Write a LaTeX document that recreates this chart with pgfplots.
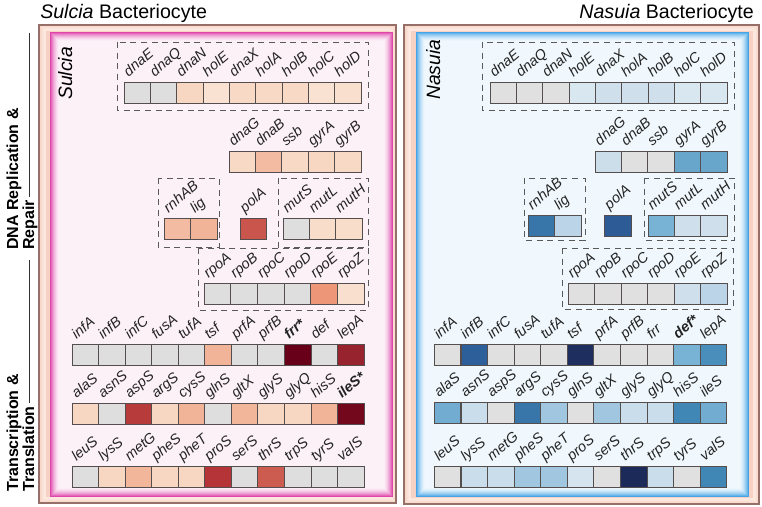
\documentclass[border=0pt]{standalone}
\usepackage{fontspec}
\setmainfont{Liberation Sans}
\usepackage{pgfplots}
\pgfplotsset{compat=1.18}
\usepackage{pgfplotstable}

\definecolor{cellline}{RGB}{85,78,78}
\definecolor{labeltext}{RGB}{35,35,35}
\definecolor{boxline}{RGB}{90,90,90}
\definecolor{frameline}{RGB}{150,112,104}
\definecolor{framefill}{RGB}{247,210,196}
\definecolor{framelight}{RGB}{252,232,222}
\definecolor{baseL}{RGB}{253,241,248}
\definecolor{glowL}{RGB}{222,70,170}
\definecolor{baseR}{RGB}{240,248,253}
\definecolor{glowR}{RGB}{70,165,230}

\newcommand\genefont{\fontsize{10.8}{12}\selectfont\itshape}
\protected\def\sig#1{\textbf{#1*}}

\pgfplotsset{
  colormap={sulc}{rgb255(0pt)=(222,222,222) rgb255(1pt)=(222,222,222)
    rgb255(2pt)=(252,236,224) rgb255(12pt)=(249,224,206) rgb255(20pt)=(246,211,190)
    rgb255(33pt)=(242,180,152) rgb255(42pt)=(238,150,120) rgb255(60pt)=(205,92,80)
    rgb255(72pt)=(180,52,56) rgb255(82pt)=(150,35,45) rgb255(100pt)=(105,0,25)},
  colormap={nasu}{rgb255(0pt)=(224,224,224) rgb255(1pt)=(224,224,224)
    rgb255(2pt)=(228,238,245) rgb255(15pt)=(205,222,235) rgb255(25pt)=(180,208,230)
    rgb255(40pt)=(120,178,212) rgb255(58pt)=(65,135,182) rgb255(72pt)=(45,95,155)
    rgb255(100pt)=(28,42,90)},
}

% gene, cell centre in pixels (x right, y down), expression level (0 = grey)
\pgfplotstableread{
gene x y v
dnaE 137.2 92.5 0
dnaQ 163.5 92.5 0
dnaN 189.9 92.5 18
holE 216.2 92.5 10
dnaX 242.6 92.5 16
holA 268.9 92.5 16
holB 295.3 92.5 16
holC 321.6 92.5 10
holD 348.0 92.5 12
dnaG 242.2 162 16
dnaB 268.6 162 30
ssb 295.0 162 16
gyrA 321.4 162 18
gyrB 347.8 162 16
rnhAB 177.2 228.5 30
lig 203.8 228.5 33
polA 253.5 228.5 62
mutS 296.2 228.5 0
mutL 322.5 228.5 14
mutH 348.8 228.5 14
rpoA 217.3 294 0
rpoB 244.0 294 0
rpoC 270.7 294 0
rpoD 297.3 294 0
rpoE 324.0 294 42
rpoZ 350.7 294 12
infA 85.3 355 0
infB 111.8 355 0
infC 138.4 355 0
fusA 164.9 355 0
tufA 191.5 355 0
tsf 218.0 355 33
prfA 244.6 355 0
prfB 271.1 355 0
\sig{frr} 297.7 355 100
def 324.2 355 0
lepA 350.8 355 82
alaS 85.3 414 18
asnS 111.8 414 0
aspS 138.4 414 70
argS 164.9 414 18
cysS 191.5 414 33
glnS 218.0 414 0
gltX 244.6 414 32
glyS 271.1 414 18
glyQ 297.7 414 18
hisS 324.2 414 33
\sig{ileS} 350.8 414 96
leuS 85.3 477 0
lysS 111.8 477 18
metG 138.4 477 32
pheS 164.9 477 18
pheT 191.5 477 18
proS 218.0 477 72
serS 244.6 477 0
thrS 271.1 477 60
trpS 297.7 477 0
tyrS 324.2 477 0
valS 350.8 477 0
}\sulcia

\pgfplotstableread{
gene x y v
dnaE 503.2 93 0
dnaQ 529.5 93 0
dnaN 555.8 93 0
holE 582.2 93 8
dnaX 608.5 93 14
holA 634.8 93 14
holB 661.2 93 14
holC 687.5 93 8
holD 713.8 93 8
dnaG 608.2 161.5 15
dnaB 634.6 161.5 0
ssb 661.0 161.5 0
gyrA 687.4 161.5 45
gyrB 713.8 161.5 45
rnhAB 541.2 225.5 64
lig 567.8 225.5 22
polA 618.0 225.5 74
mutS 661.2 225.5 40
mutL 687.5 225.5 14
mutH 713.8 225.5 14
rpoA 581.25 294 0
rpoB 607.75 294 0
rpoC 634.25 294 0
rpoD 660.75 294 0
rpoE 687.25 294 14
rpoZ 713.75 294 22
infA 447.6 355 0
infB 474.2 355 72
infC 500.8 355 0
fusA 527.4 355 0
tufA 553.9 355 0
tsf 580.5 355 98
prfA 607.1 355 0
prfB 633.7 355 0
frr 660.3 355 0
\sig{def} 686.8 355 40
lepA 713.4 355 55
alaS 447.6 413 42
asnS 474.2 413 16
aspS 500.8 413 0
argS 527.4 413 64
cysS 553.9 413 30
glnS 580.5 413 0
gltX 607.1 413 30
glyS 633.7 413 16
glyQ 660.3 413 16
hisS 686.8 413 58
ileS 713.4 413 42
leuS 447.6 476.7 0
lysS 474.2 476.7 16
metG 500.8 476.7 16
pheS 527.4 476.7 30
pheT 553.9 476.7 30
proS 580.5 476.7 10
serS 607.1 476.7 0
thrS 633.7 476.7 100
trpS 660.3 476.7 16
tyrS 686.8 476.7 0
valS 713.4 476.7 58
}\nasuia

\pgfdeclareplotmark{cell}{%
  \pgfpathrectangle{\pgfqpoint{-9.94pt}{-7.88pt}}{\pgfqpoint{19.88pt}{15.75pt}}%
  \pgfusepathqfillstroke}

\pgfplotsset{
  pix/.style={hide axis, scale only axis, x=0.75pt, y=0.75pt, y dir=reverse,
    xmin=0, xmax=762, ymin=0, ymax=506, at={(0,0)}, anchor=north west,
    clip=false, point meta min=0, point meta max=100},
  cells/.style={scatter, only marks, mark=cell, point meta=explicit, line width=0.6pt,
    scatter/@pre marker code/.code={%
      \pgfplotscolormapdefinemappedcolor{\pgfplotspointmetatransformed}%
      \scope[draw=cellline, fill=mapped color]},
    scatter/@post marker code/.code={\endscope}},
  genes/.style={only marks, mark=none, point meta=explicit symbolic,
    nodes near coords={\pgfplotspointmeta},
    every node near coord/.style={xshift=-6.6pt, yshift=11.4pt, rotate=40,
      anchor=base west, inner sep=0pt, font=\genefont, text=labeltext}},
}

\begin{document}
\begin{tikzpicture}
\begin{scope}[x=0.75pt, y=-0.75pt]
  \path (0,0) rectangle (762,506);
  % panel frames
  \foreach \xa/\xb/\ya/\yb in {39/396/25/503, 404/759/25/504} {
    \fill[framefill] (\xa,\ya) rectangle (\xb,\yb);
    \foreach \i in {1,...,5} {
      \pgfmathtruncatemacro\p{20*\i}
      \draw[line width=0.8pt, framelight!\p!framefill] ({\xa+\i+1},{\ya+\i}) rectangle ({\xb-\i},{\yb-\i});
    }
    \draw[frameline, line width=0.8pt] (\xa,\ya) rectangle (\xb,\yb);
  }
  \fill[baseL] (50,32) rectangle (393,497);
  \fill[baseR] (416,32) rectangle (749,497);
  \foreach \i in {0,...,9} {
    \pgfmathtruncatemacro\p{100*(1-\i/10)^2}
    \draw[line width=0.8pt, glowL!\p!baseL] ({50.5+\i},{32.5+\i}) rectangle ({392.5-\i},{496.5-\i});
    \draw[line width=0.8pt, glowR!\p!baseR] ({416.5+\i},{32.5+\i}) rectangle ({748.5-\i},{496.5-\i});
  }
\end{scope}

\begin{axis}[pix, colormap name=sulc]
  \addplot[cells] table[x=x, y=y, meta=v] {\sulcia};
  \addplot[genes] table[x=x, y=y, meta=gene] {\sulcia};
\end{axis}
\begin{axis}[pix, colormap name=nasu]
  \addplot[cells] table[x=x, y=y, meta=v] {\nasuia};
  \addplot[genes] table[x=x, y=y, meta=gene] {\nasuia};
\end{axis}

\begin{scope}[x=0.75pt, y=-0.75pt]
  % gene groups
  \begin{scope}[boxline, line width=0.6pt, dash pattern=on 4.5pt off 3.5pt]
    \draw (117,42) rectangle (368,110);
    \draw (158,178) rectangle (219,247);
    \draw (278,178) rectangle (368,247);
    \draw (198,248) rectangle (368,310);
    \draw (482,42) rectangle (734,110);
    \draw (524,178) rectangle (585,240);
    \draw (644,178) rectangle (734,240);
    \draw (562,248) rectangle (733,309);
  \end{scope}
  % titles
  \node[anchor=base west, inner sep=0pt, font=\fontsize{14.7}{17}\selectfont] at (40,19) {\textit{Sulcia} Bacteriocyte};
  \node[anchor=base east, inner sep=0pt, font=\fontsize{14.7}{17}\selectfont] at (754,19) {\textit{Nasuia} Bacteriocyte};
  \node[rotate=90, anchor=base west, inner sep=0pt, font=\fontsize{14.5}{17}\selectfont\itshape] at (72,100) {Sulcia};
  \node[rotate=90, anchor=base west, inner sep=0pt, font=\fontsize{14.5}{17}\selectfont\itshape] at (440,100) {Nasuia};
  % categories
  \begin{scope}[every node/.style={rotate=90, anchor=base west, inner sep=0pt, font=\fontsize{12}{14}\selectfont\bfseries}]
    \node at (18,250) {DNA Replication \&};
    \node at (34,250) {Repair};
    \node at (18,492) {Transcription \&};
    \node at (34,492) {Translation};
  \end{scope}
  \draw[black!80, line width=0.6pt] (29,197) -- (29,33);
  \draw[black!80, line width=0.6pt] (29,403) -- (29,260);
\end{scope}
\end{tikzpicture}
\end{document}
